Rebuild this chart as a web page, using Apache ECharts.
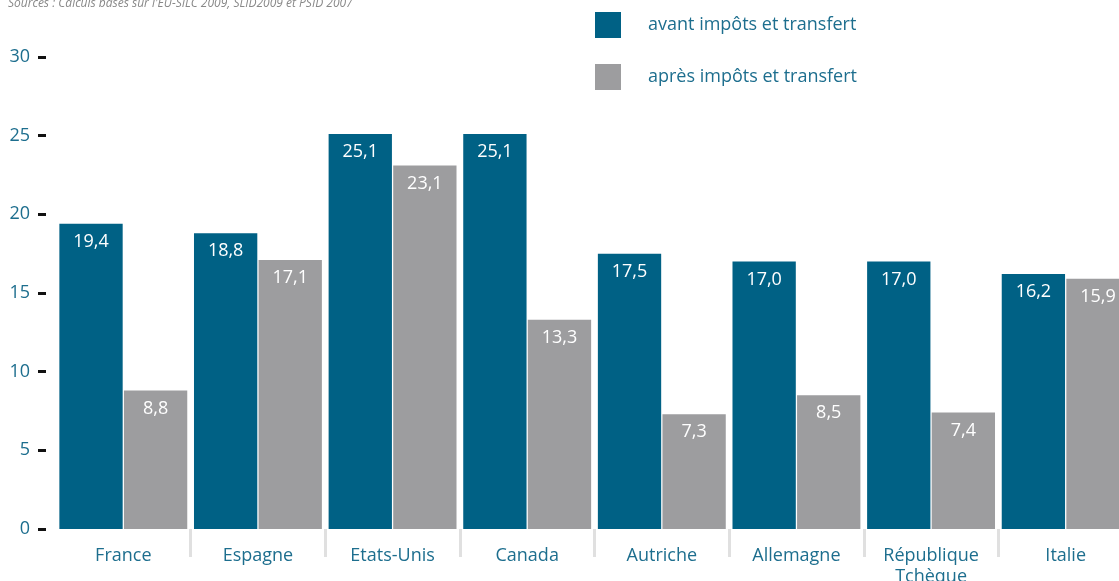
<!DOCTYPE html>
<html>
<head>
<meta charset="utf-8">
<script src="https://cdn.jsdelivr.net/npm/echarts@6/dist/echarts.min.js"></script>
<style>
  html, body { margin: 0; padding: 0; background: #fff; }
  #chart { width: 1119px; height: 581px; }
</style>
</head>
<body>
<div id="chart"></div>
<script>
// 数据
var categories = ['France', 'Espagne', 'Etats-Unis', 'Canada', 'Autriche', 'Allemagne', 'République\nTchèque', 'Italie'];
var avantData = [19.4, 18.8, 25.1, 25.1, 17.5, 17.0, 17.0, 16.2];
var apresData = [8.8, 17.1, 23.1, 13.3, 7.3, 8.5, 7.4, 15.9];
var seriesNames = ['avant impôts et transfert', 'après impôts et transfert'];
var sourceText = "Sources : Calculs basés sur l'EU-SILC 2009, SLID2009 et PSID 2007";

var teal = '#1d6e8e';
var fontName = '"Open Sans", "Noto Sans", sans-serif';

function fmt(p) {
  return p.value.toFixed(1).replace('.', ',');
}

function barSeries(name, data, color) {
  return {
    name: name,
    type: 'bar',
    data: data,
    barGap: '2%',
    barCategoryGap: '5%',
    itemStyle: { color: color },
    label: {
      show: true,
      position: 'insideTop',
      distance: 9,
      color: '#fff',
      fontSize: 18,
      fontFamily: fontName,
      formatter: fmt
    }
  };
}

var myChart = echarts.init(document.getElementById('chart'));
myChart.setOption({
  animation: false,
  textStyle: { fontFamily: fontName },
  title: {
    text: sourceText,
    left: 3,
    top: -7,
    textStyle: { fontSize: 12, fontStyle: 'italic', fontWeight: 'normal', color: '#888' }
  },
  legend: {
    orient: 'vertical',
    left: 590,
    top: 7,
    itemWidth: 26,
    itemHeight: 26,
    itemGap: 26,
    icon: 'rect',
    data: seriesNames,
    textStyle: { color: teal, fontSize: 18, padding: [0, 0, 0, 22] }
  },
  grid: {
    left: 56,
    width: 1077,
    top: 57,
    bottom: 52,
    outerBoundsMode: 'none'
  },
  xAxis: {
    type: 'category',
    data: categories,
    offset: 15,
    axisLine: { show: false },
    axisTick: {
      show: true,
      length: 28,
      interval: function (index) { return index > 0; },
      lineStyle: { color: '#e0e0e0', width: 3 }
    },
    axisLabel: {
      color: teal,
      fontSize: 18,
      margin: 1,
      lineHeight: 21
    }
  },
  yAxis: {
    type: 'value',
    min: 0,
    max: 30,
    interval: 5,
    offset: 10,
    axisLine: { show: false },
    axisTick: {
      show: true,
      length: 8,
      lineStyle: { color: '#111', width: 3 }
    },
    splitLine: { show: false },
    axisLabel: {
      color: teal,
      fontSize: 18,
      margin: 16
    }
  },
  series: [
    barSeries(seriesNames[0], avantData, '#006185'),
    barSeries(seriesNames[1], apresData, '#9d9d9f')
  ]
});
</script>
</body>
</html>
